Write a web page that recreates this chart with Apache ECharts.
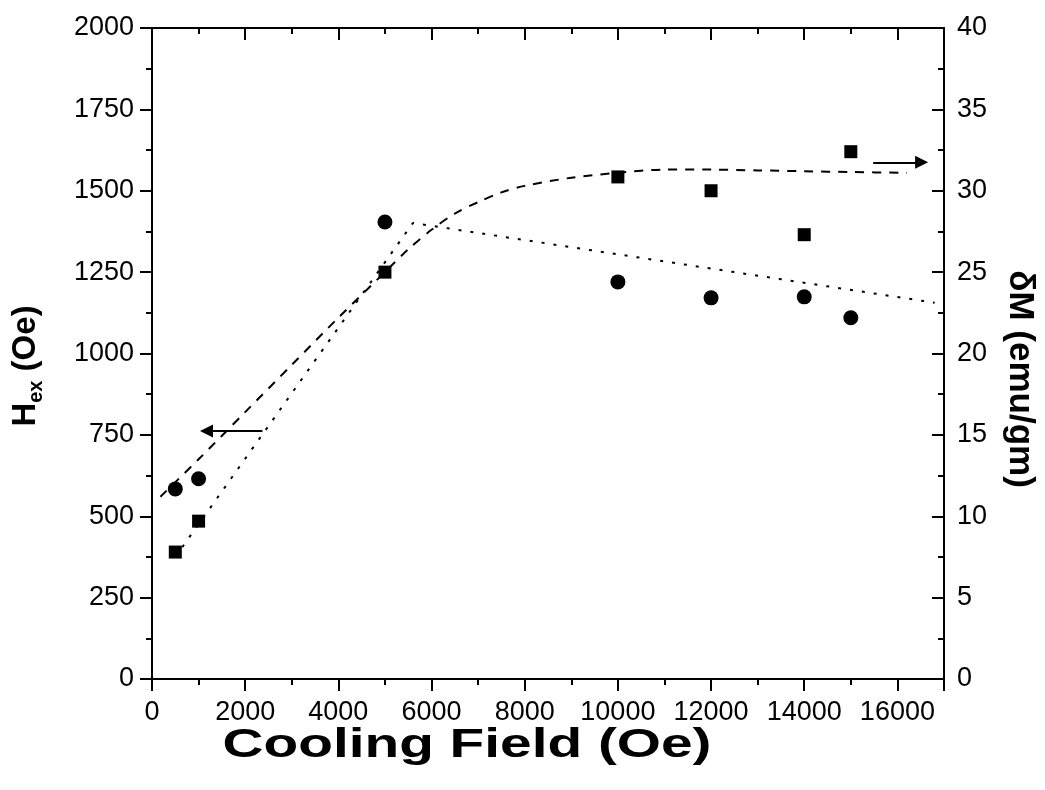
<!DOCTYPE html>
<html>
<head>
<meta charset="utf-8">
<script src="https://cdn.jsdelivr.net/npm/echarts@6/dist/echarts.min.js"></script>
<style>html,body{margin:0;padding:0;background:#fff;}#c{width:1045px;height:790px;}</style>
</head>
<body>
<div id="c"></div>
<script>
// Exchange field H_ex (left axis, Oe) - circles
const hexX = [500, 1000, 5000, 10000, 12000, 14000, 15000];
const hexY = [584, 615, 1404, 1220, 1171, 1174, 1110];
// delta M (right axis, emu/gm) - squares
const dmX = [500, 1000, 5000, 10000, 12000, 14000, 15000];
const dmY = [7.8, 9.7, 25.0, 30.85, 30.0, 27.3, 32.4];
// dashed guide line (right axis)
const dashX = [180, 1000, 2000, 3000, 4000, 5000, 5500, 6000, 6500, 7000, 7500, 8000, 9000, 10000, 11000, 12000, 13000, 14000, 15000, 16200];
const dashY = [11.2, 13.5, 16.4, 19.3, 22.2, 25.0, 26.4, 27.6, 28.6, 29.3, 29.9, 30.3, 30.8, 31.1, 31.3, 31.3, 31.25, 31.2, 31.15, 31.1];
// dotted guide line (left axis)
const dotX = [500, 5600, 16800];
const dotY = [375, 1401, 1156];
// arrows [x1, y1, x2, y2]
const arrowLeft = [2370, 762, 1170, 762];
const arrowRight = [15480, 31.75, 16520, 31.75];
// ticks
const xTicks = [0, 2000, 4000, 6000, 8000, 10000, 12000, 14000, 16000];
const leftTicks = [0, 250, 500, 750, 1000, 1250, 1500, 1750, 2000];
const rightTicks = [0, 5, 10, 15, 20, 25, 30, 35, 40];

const zip = (a, b) => a.map((v, i) => [v, b[i]]);
const FONT = '"Liberation Sans", Arial, sans-serif';
const lbl = { color: '#000', fontSize: 27, fontFamily: FONT };
const axLine = { show: true, onZero: false, lineStyle: { color: '#000', width: 2 } };

const chart = echarts.init(document.getElementById('c'), null, { renderer: 'canvas' });
chart.setOption({
  animation: false,
  backgroundColor: '#fff',
  grid: { left: 152, right: 101, top: 28, bottom: 111, containLabel: false },
  xAxis: [
    { type: 'value', position: 'bottom', min: 0, max: 17000, interval: 2000,
      axisLine: axLine,
      axisTick: { show: true, inside: false, length: 12, lineStyle: { color: '#000', width: 2 } },
      minorTick: { show: true, splitNumber: 2, length: 6, lineStyle: { color: '#000', width: 2 } },
      axisLabel: Object.assign({ margin: 20, formatter: v => xTicks.includes(v) ? String(v) : '' }, lbl),
      splitLine: { show: false } },
    { type: 'value', position: 'top', min: 0, max: 17000, interval: 2000,
      axisLine: axLine,
      axisTick: { show: true, inside: true, length: 12, lineStyle: { color: '#000', width: 2 } },
      minorTick: { show: true, splitNumber: 2, length: 6, lineStyle: { color: '#000', width: 2 } },
      axisLabel: { show: false }, splitLine: { show: false } }
  ],
  yAxis: [
    { type: 'value', position: 'left', min: 0, max: 2000, interval: 250,
      axisLine: axLine,
      axisTick: { show: true, inside: false, length: 12, lineStyle: { color: '#000', width: 2 } },
      minorTick: { show: true, splitNumber: 2, length: 6, lineStyle: { color: '#000', width: 2 } },
      axisLabel: Object.assign({ margin: 18, formatter: v => leftTicks.includes(v) ? String(v) : '' }, lbl),
      splitLine: { show: false } },
    { type: 'value', position: 'right', min: 0, max: 40, interval: 5,
      axisLine: axLine,
      axisTick: { show: true, inside: true, length: 12, lineStyle: { color: '#000', width: 2 } },
      minorTick: { show: true, splitNumber: 2, length: 6, lineStyle: { color: '#000', width: 2 } },
      axisLabel: Object.assign({ margin: 13, formatter: v => rightTicks.includes(v) ? String(v) : '' }, lbl),
      splitLine: { show: false } }
  ],
  series: [
    { type: 'line', xAxisIndex: 0, yAxisIndex: 1, data: zip(dashX, dashY), smooth: 0.3,
      showSymbol: false, lineStyle: { color: '#000', width: 2, type: [9, 8] }, z: 2 },
    { type: 'line', xAxisIndex: 0, yAxisIndex: 0, data: zip(dotX, dotY),
      showSymbol: false, lineStyle: { color: '#000', width: 2, type: [3, 9] }, z: 2 },
    { type: 'scatter', xAxisIndex: 0, yAxisIndex: 0, data: zip(hexX, hexY),
      symbol: 'circle', symbolSize: 15, itemStyle: { color: '#000', opacity: 1 }, z: 3 },
    { type: 'scatter', xAxisIndex: 0, yAxisIndex: 1, data: zip(dmX, dmY),
      symbol: 'rect', symbolSize: 13, itemStyle: { color: '#000', opacity: 1 }, z: 3 },
    { type: 'lines', coordinateSystem: 'cartesian2d', xAxisIndex: 0, yAxisIndex: 0,
      symbol: ['none', 'triangle'], symbolSize: [0, 13],
      lineStyle: { color: '#000', width: 2, opacity: 1 },
      data: [{ coords: [[arrowLeft[0], arrowLeft[1]], [arrowLeft[2], arrowLeft[3]]] }], z: 3 },
    { type: 'lines', coordinateSystem: 'cartesian2d', xAxisIndex: 0, yAxisIndex: 1,
      symbol: ['none', 'triangle'], symbolSize: [0, 13],
      lineStyle: { color: '#000', width: 2, opacity: 1 },
      data: [{ coords: [[arrowRight[0], arrowRight[1]], [arrowRight[2], arrowRight[3]]] }], z: 3 }
  ],
  graphic: [
    { type: 'text', x: 467, y: 746, scaleX: 1.42, z: 10,
      style: { text: 'Cooling Field (Oe)', font: 'bold 40px ' + FONT, fill: '#000', align: 'center', verticalAlign: 'middle' } },
    { type: 'text', x: 26, y: 366, rotation: Math.PI / 2, z: 10,
      style: { text: '{h|H}{s|ex}{h| (Oe)}', fill: '#000', align: 'center', verticalAlign: 'middle',
        rich: { h: { fontFamily: FONT, fontWeight: 'bold', fontSize: 33, lineHeight: 40, fill: '#000' },
                s: { fontFamily: FONT, fontWeight: 'bold', fontSize: 20, lineHeight: 20, verticalAlign: 'bottom', fill: '#000' } } } },
    { type: 'text', x: 1020, y: 379, rotation: -Math.PI / 2, z: 10,
      style: { text: 'δM (emu/gm)', font: 'bold 35px ' + FONT, fill: '#000', align: 'center', verticalAlign: 'middle' } }
  ]
});
</script>
</body>
</html>
